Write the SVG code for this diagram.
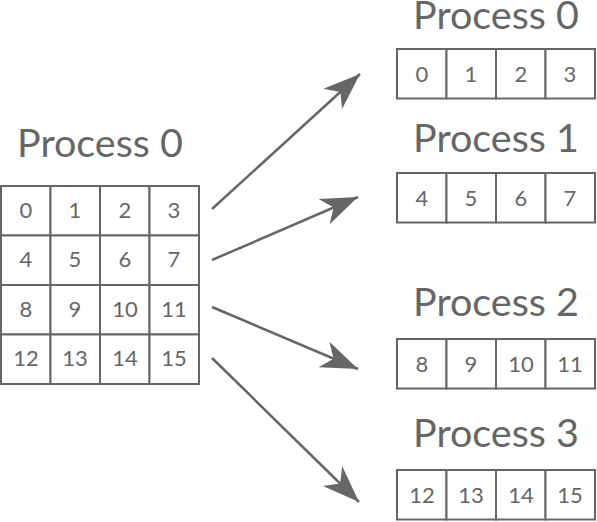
<svg xmlns="http://www.w3.org/2000/svg" width="597" height="522" viewBox="0 0 597 522">
<style>
.t{font-family:Lato,"Open Sans","Liberation Sans",sans-serif;fill:#666;text-anchor:middle}
.title{font-size:39.5px}
.n{font-size:22px}
.c{fill:#fff;stroke:#666;stroke-width:2}
.a{stroke:#666;stroke-width:2.5;fill:none;marker-end:url(#ah)}
</style>
<defs>
<marker id="ah" markerUnits="userSpaceOnUse" markerWidth="40" markerHeight="30" viewBox="-32 -13 34 26" refX="0" refY="0" orient="auto">
<path d="M0,0 L-32,-12 L-23,0 L-32,12 Z" fill="#666"/>
</marker>
</defs>
<rect width="597" height="522" fill="#fff"/>
<g id="source">
<text class="t title" x="100" y="157">Process 0</text>
<g>
<rect class="c" x="1" y="186" width="49.5" height="49.5"/><rect class="c" x="50.5" y="186" width="49.5" height="49.5"/><rect class="c" x="100" y="186" width="49.5" height="49.5"/><rect class="c" x="149.5" y="186" width="49.5" height="49.5"/>
<rect class="c" x="1" y="235.5" width="49.5" height="49.5"/><rect class="c" x="50.5" y="235.5" width="49.5" height="49.5"/><rect class="c" x="100" y="235.5" width="49.5" height="49.5"/><rect class="c" x="149.5" y="235.5" width="49.5" height="49.5"/>
<rect class="c" x="1" y="285" width="49.5" height="49.5"/><rect class="c" x="50.5" y="285" width="49.5" height="49.5"/><rect class="c" x="100" y="285" width="49.5" height="49.5"/><rect class="c" x="149.5" y="285" width="49.5" height="49.5"/>
<rect class="c" x="1" y="334.5" width="49.5" height="49.5"/><rect class="c" x="50.5" y="334.5" width="49.5" height="49.5"/><rect class="c" x="100" y="334.5" width="49.5" height="49.5"/><rect class="c" x="149.5" y="334.5" width="49.5" height="49.5"/>
</g>
<text class="t n" x="26" y="218">0</text><text class="t n" x="75" y="218">1</text><text class="t n" x="125" y="218">2</text><text class="t n" x="174" y="218">3</text>
<text class="t n" x="26" y="267">4</text><text class="t n" x="75" y="267">5</text><text class="t n" x="125" y="267">6</text><text class="t n" x="174" y="267">7</text>
<text class="t n" x="26" y="317">8</text><text class="t n" x="75" y="317">9</text><text class="t n" x="125" y="317">10</text><text class="t n" x="174" y="317">11</text>
<text class="t n" x="26" y="366">12</text><text class="t n" x="75" y="366">13</text><text class="t n" x="125" y="366">14</text><text class="t n" x="174" y="366">15</text>
</g>
<g id="connectors">
<line class="a" x1="212" y1="209" x2="360" y2="74"/>
<line class="a" x1="212" y1="260" x2="358" y2="197"/>
<line class="a" x1="212" y1="307" x2="358" y2="369"/>
<line class="a" x1="212" y1="358" x2="359" y2="502"/>
</g>
<g id="p0">
<text class="t title" x="496" y="29">Process 0</text>
<rect class="c" x="397" y="49" width="49.5" height="49.5"/><rect class="c" x="446.5" y="49" width="49.5" height="49.5"/><rect class="c" x="496" y="49" width="49.5" height="49.5"/><rect class="c" x="545.5" y="49" width="49.5" height="49.5"/>
<text class="t n" x="422" y="82">0</text><text class="t n" x="471" y="82">1</text><text class="t n" x="521" y="82">2</text><text class="t n" x="570" y="82">3</text>
</g>
<g id="p1">
<text class="t title" x="496" y="152">Process 1</text>
<rect class="c" x="397" y="173" width="49.5" height="49.5"/><rect class="c" x="446.5" y="173" width="49.5" height="49.5"/><rect class="c" x="496" y="173" width="49.5" height="49.5"/><rect class="c" x="545.5" y="173" width="49.5" height="49.5"/>
<text class="t n" x="422" y="206">4</text><text class="t n" x="471" y="206">5</text><text class="t n" x="521" y="206">6</text><text class="t n" x="570" y="206">7</text>
</g>
<g id="p2">
<text class="t title" x="496" y="316">Process 2</text>
<rect class="c" x="397" y="339" width="49.5" height="49.5"/><rect class="c" x="446.5" y="339" width="49.5" height="49.5"/><rect class="c" x="496" y="339" width="49.5" height="49.5"/><rect class="c" x="545.5" y="339" width="49.5" height="49.5"/>
<text class="t n" x="422" y="372">8</text><text class="t n" x="471" y="372">9</text><text class="t n" x="521" y="372">10</text><text class="t n" x="570" y="372">11</text>
</g>
<g id="p3">
<text class="t title" x="496" y="447">Process 3</text>
<rect class="c" x="397" y="470" width="49.5" height="49.5"/><rect class="c" x="446.5" y="470" width="49.5" height="49.5"/><rect class="c" x="496" y="470" width="49.5" height="49.5"/><rect class="c" x="545.5" y="470" width="49.5" height="49.5"/>
<text class="t n" x="422" y="503">12</text><text class="t n" x="471" y="503">13</text><text class="t n" x="521" y="503">14</text><text class="t n" x="570" y="503">15</text>
</g>
</svg>
